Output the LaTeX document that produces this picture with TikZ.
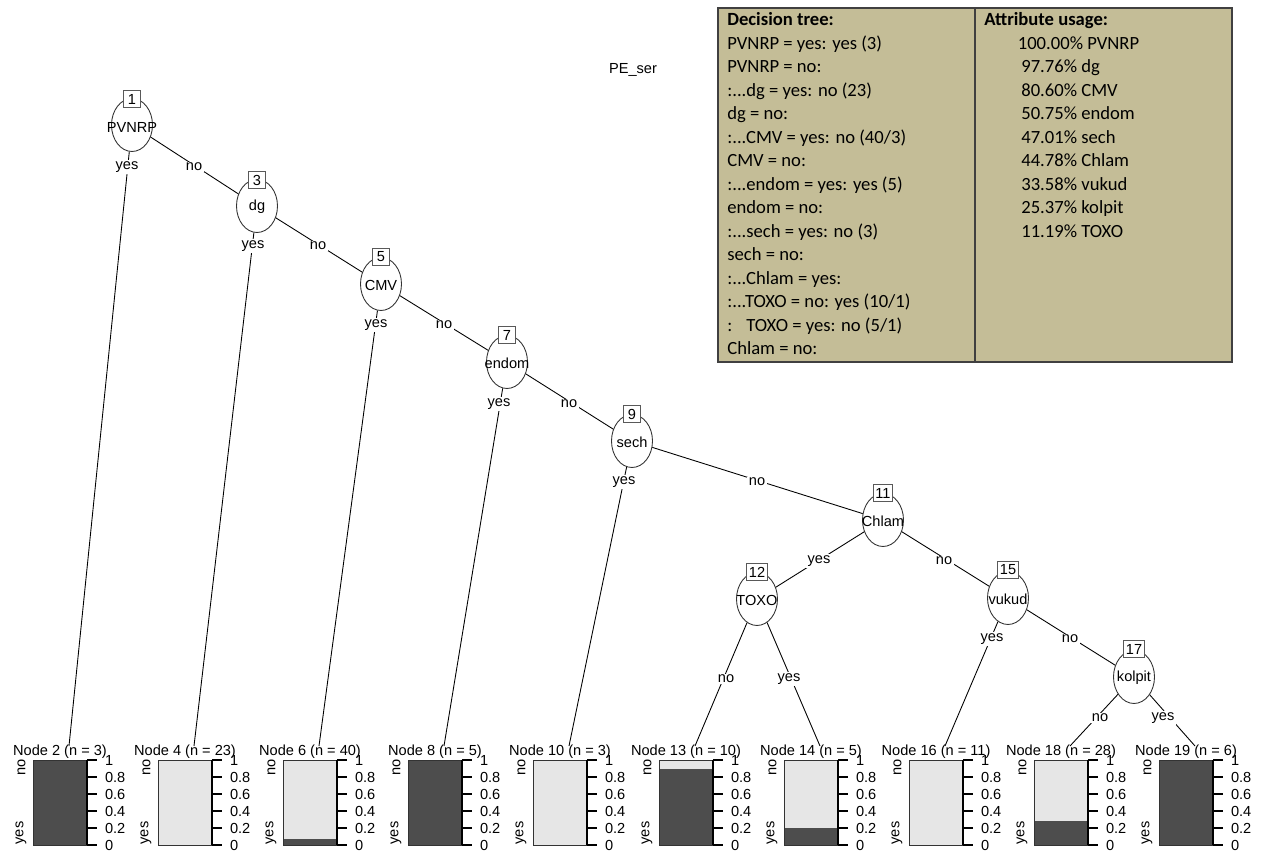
\documentclass[tikz,border=0pt]{standalone}
\usepackage{fontspec}
\setmainfont{Liberation Sans}
\newfontfamily\tabfont{Carlito}
\usetikzlibrary{shapes.geometric}
\definecolor{tabtan}{HTML}{C4BD97}
\definecolor{tabline}{HTML}{404040}
\definecolor{noshade}{HTML}{E6E6E6}
\definecolor{yesshade}{HTML}{4D4D4D}
\tikzset{
  split/.style={ellipse,draw=black!80,line width=0.5pt,minimum width=0.82cm,
    minimum height=1.06cm,inner sep=0pt},
  varname/.style={inner sep=0pt,font=\fontsize{8.3}{10}\selectfont},
  idbox/.style={draw=black!65,fill=white,line width=0.6pt,minimum width=0.34cm,
    minimum height=0.33cm,inner sep=1.2pt,font=\fontsize{8.3}{10}\selectfont},
  edgelab/.style={fill=white,inner sep=0.8pt,font=\fontsize{8.3}{10}\selectfont},
  leaftitle/.style={inner sep=0pt,font=\fontsize{8.3}{10}\selectfont},
  ticklab/.style={anchor=west,inner sep=0pt,xshift=0.15cm,font=\fontsize{8.3}{10}\selectfont},
  levlab/.style={inner sep=0pt,rotate=90,font=\fontsize{8.3}{10}\selectfont},
  rowtxt/.style={anchor=base west,inner sep=0pt,font=\tabfont\fontsize{10.6}{13}\selectfont}
}
% one terminal panel: name, left x of bar, share of yes, title
\newcommand{\leafpanel}[4]{%
  \node[leaftitle] (#1t) at (#2+27,752) {#4};
  \coordinate (#1) at (#2+36,746);
  \fill[noshade] (#2,760) rectangle (#2+54,845);
  \fill[yesshade] (#2,845) rectangle (#2+54,845-85*#3);
  \draw[black!80,line width=0.5pt] (#2+54,760) -- (#2,760) -- (#2,845) -- (#2+54,845);
  \draw[line width=0.6pt] (#2+54,760) -- (#2+54,845);
  \foreach \tk in {0,0.2,0.4,0.6,0.8,1}
    \draw[line width=0.6pt] (#2+54,845-85*\tk) -- ++(10,0) node[ticklab] {\tk};
  \node[levlab] (#1no) at (#2-11.5,767) {no};
  \node[levlab] (#1yes) at (#2-12,833) {yes};
}
\begin{document}
\begin{tikzpicture}[x=0.02cm,y=-0.02cm]
  \useasboundingbox (0,0) rectangle (1265,851);
  \clip (0,0) rectangle (1265,851);

  \node[varname] (title) at (633,70) {PE\_ser};

  \node[split] (v1) at (132,125) {};
  \node[split] (v3) at (257,206) {};
  \node[split] (v5) at (381,284) {};
  \node[split] (v7) at (507,362) {};
  \node[split] (v9) at (632,441) {};
  \node[split] (v11) at (883,520) {};
  \node[split] (v12) at (757,599) {};
  \node[split] (v15) at (1008,598) {};
  \node[split] (v17) at (1134,677) {};

  \node[varname] (v1name) at (132,127) {PVNRP};
  \node[varname] (v3name) at (257,207) {dg};
  \node[varname] (v5name) at (381,285) {CMV};
  \node[varname] (v7name) at (507,363) {endom};
  \node[varname] (v9name) at (632,442) {sech};
  \node[varname] (v11name) at (883,521) {Chlam};
  \node[varname] (v12name) at (757,600) {TOXO};
  \node[varname] (v15name) at (1008,599) {vukud};
  \node[varname] (v17name) at (1134,678) {kolpit};

  \leafpanel{n2}{33}{1}{Node 2 (n = 3)}
  \leafpanel{n4}{158}{0}{Node 4 (n = 23)}
  \leafpanel{n6}{283}{0.075}{Node 6 (n = 40)}
  \leafpanel{n8}{408}{1}{Node 8 (n = 5)}
  \leafpanel{n10}{533}{0}{Node 10 (n = 3)}
  \leafpanel{n13}{659}{0.9}{Node 13 (n = 10)}
  \leafpanel{n14}{784}{0.2}{Node 14 (n = 5)}
  \leafpanel{n16}{909}{0}{Node 16 (n = 11)}
  \leafpanel{n18}{1034}{0.286}{Node 18 (n = 28)}
  \leafpanel{n19}{1159}{1}{Node 19 (n = 6)}

  \draw[line width=0.5pt] (v1) -- (n2);
  \draw[line width=0.5pt] (v1) -- (v3);
  \draw[line width=0.5pt] (v3) -- (n4);
  \draw[line width=0.5pt] (v3) -- (v5);
  \draw[line width=0.5pt] (v5) -- (n6);
  \draw[line width=0.5pt] (v5) -- (v7);
  \draw[line width=0.5pt] (v7) -- (n8);
  \draw[line width=0.5pt] (v7) -- (v9);
  \draw[line width=0.5pt] (v9) -- (n10);
  \draw[line width=0.5pt] (v9) -- (v11);
  \draw[line width=0.5pt] (v11) -- (v12);
  \draw[line width=0.5pt] (v11) -- (v15);
  \draw[line width=0.5pt] (v12) -- (n13);
  \draw[line width=0.5pt] (v12) -- (n14);
  \draw[line width=0.5pt] (v15) -- (n16);
  \draw[line width=0.5pt] (v15) -- (v17);
  \draw[line width=0.5pt] (v17) -- (n18);
  \draw[line width=0.5pt] (v17) -- (n19);

  \node[edgelab] (e2) at (127,167) {yes};
  \node[edgelab] (e3) at (194,167) {no};
  \node[edgelab] (e4) at (253,246) {yes};
  \node[edgelab] (e5) at (318,246) {no};
  \node[edgelab] (e6) at (376,325) {yes};
  \node[edgelab] (e7) at (444,325) {no};
  \node[edgelab] (e8) at (499,404) {yes};
  \node[edgelab] (e9) at (569,404) {no};
  \node[edgelab] (e10) at (624,482) {yes};
  \node[edgelab] (e11) at (757,482) {no};
  \node[edgelab] (e12) at (819,561) {yes};
  \node[edgelab] (e15) at (944,561) {no};
  \node[edgelab] (e13) at (726,679) {no};
  \node[edgelab] (e14) at (789,679) {yes};
  \node[edgelab] (e16) at (992,639) {yes};
  \node[edgelab] (e17) at (1070,639) {no};
  \node[edgelab] (e18) at (1100,718) {no};
  \node[edgelab] (e19) at (1163,718) {yes};

  \node[idbox] (v1id) at (132,99) {1};
  \node[idbox] (v3id) at (257,180) {3};
  \node[idbox] (v5id) at (381,257) {5};
  \node[idbox] (v7id) at (507,335) {7};
  \node[idbox] (v9id) at (632,414) {9};
  \node[idbox] (v11id) at (883,493) {11};
  \node[idbox] (v12id) at (757,572) {12};
  \node[idbox] (v15id) at (1008,570) {15};
  \node[idbox] (v17id) at (1134,649) {17};

  \draw[tabline,fill=tabtan,line width=1.1pt] (718,8) rectangle (1232,362);
  \draw[tabline,line width=1.1pt] (975,8) -- (975,362);

  \node[rowtxt] (dt0) at (727,26) {\bfseries Decision tree:};
  \node[rowtxt] (dt1) at (727,49.5) {PVNRP = yes: yes (3)};
  \node[rowtxt] (dt2) at (727,73) {PVNRP = no:};
  \node[rowtxt] (dt3) at (727,96.5) {:...dg = yes: no (23)};
  \node[rowtxt] (dt4) at (727,120) {dg = no:};
  \node[rowtxt] (dt5) at (727,143.5) {:...CMV = yes: no (40/3)};
  \node[rowtxt] (dt6) at (727,167) {CMV = no:};
  \node[rowtxt] (dt7) at (727,190.5) {:...endom = yes: yes (5)};
  \node[rowtxt] (dt8) at (727,214) {endom = no:};
  \node[rowtxt] (dt9) at (727,237.5) {:...sech = yes: no (3)};
  \node[rowtxt] (dt10) at (727,261) {sech = no:};
  \node[rowtxt] (dt11) at (727,284.5) {:...Chlam = yes:};
  \node[rowtxt] (dt12) at (727,308) {:...TOXO = no: yes (10/1)};
  \node[rowtxt] (dt13) at (727,331.5) {:\hspace{0.28cm}TOXO = yes: no (5/1)};
  \node[rowtxt] (dt14) at (727,355) {Chlam = no:};

  \node[rowtxt] (au0) at (984,26) {\bfseries Attribute usage:};
  \node[rowtxt] (au1) at (1017.5,49.5) {100.00\% PVNRP};
  \node[rowtxt] (au2) at (1021,73) {97.76\% dg};
  \node[rowtxt] (au3) at (1021,96.5) {80.60\% CMV};
  \node[rowtxt] (au4) at (1021,120) {50.75\% endom};
  \node[rowtxt] (au5) at (1021,143.5) {47.01\% sech};
  \node[rowtxt] (au6) at (1021,167) {44.78\% Chlam};
  \node[rowtxt] (au7) at (1021,190.5) {33.58\% vukud};
  \node[rowtxt] (au8) at (1021,214) {25.37\% kolpit};
  \node[rowtxt] (au9) at (1021,237.5) {11.19\% TOXO};
\end{tikzpicture}
\end{document}
